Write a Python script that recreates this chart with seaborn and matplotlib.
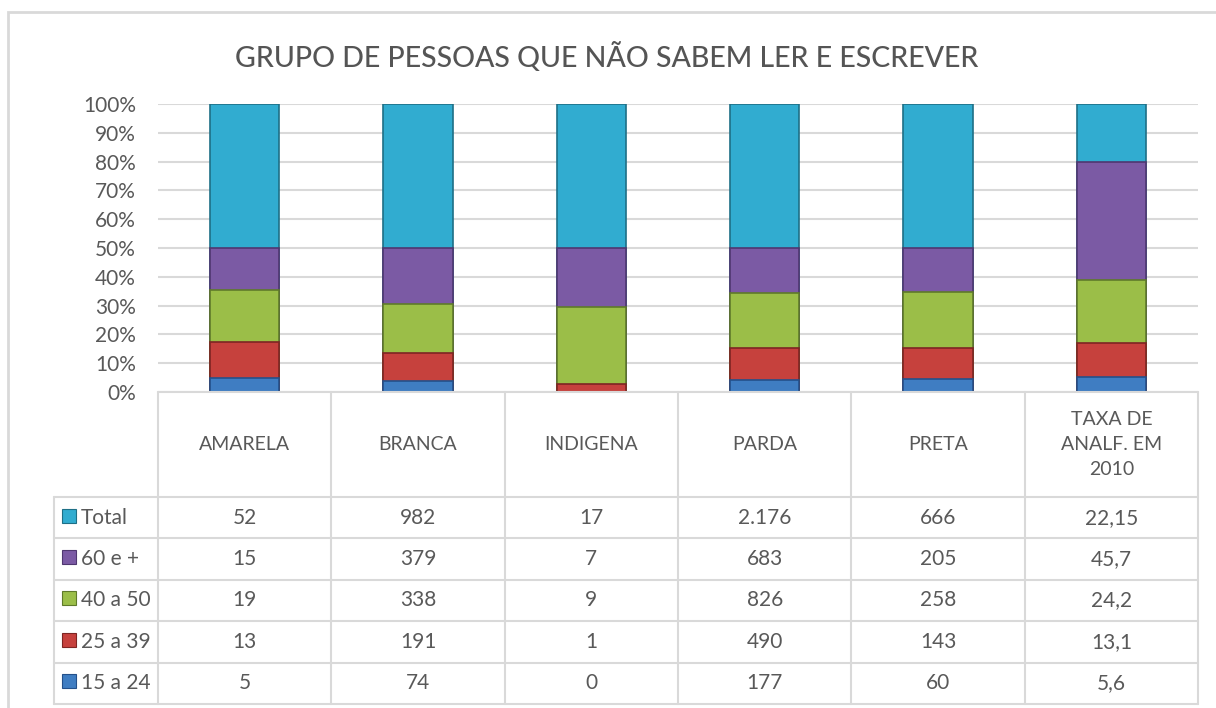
import numpy as np
import pandas as pd
import matplotlib
matplotlib.use("Agg")
import matplotlib.pyplot as plt
from matplotlib.patches import Rectangle
import seaborn as sns

# ---------------- data ----------------
categories = ["AMARELA", "BRANCA", "INDIGENA", "PARDA", "PRETA", "TAXA DE\nANALF. EM\n2010"]
series_names = ["Total", "60 e +", "40 a 50", "25 a 39", "15 a 24"]   # table order (top -> bottom)
total      = [52, 982, 17, 2176, 666, 22.15]
age_60     = [15, 379, 7, 683, 205, 45.7]
age_40_50  = [19, 338, 9, 826, 258, 24.2]
age_25_39  = [13, 191, 1, 490, 143, 13.1]
age_15_24  = [5, 74, 0, 177, 60, 5.6]
y_ticks = [0.0, 0.1, 0.2, 0.3, 0.4, 0.5, 0.6, 0.7, 0.8, 0.9, 1.0]
title = "GRUPO DE PESSOAS QUE NÃO SABEM LER E ESCREVER"

series_values = [total, age_60, age_40_50, age_25_39, age_15_24]
colors = ["#31ACD0", "#7B5AA4", "#9BBE48", "#C6413D", "#3F7DC2"]
edge_colors = ["#1E6F86", "#4F3770", "#5F7A2A", "#7E2523", "#24508A"]

# ---------------- styling ----------------
sns.set_theme(style="white")
plt.rcParams["font.family"] = ["Lato", "DejaVu Sans"]
TXT = "#595959"
GRID = "#D9D9D9"

W, H = 1216, 708
fig = plt.figure(figsize=(W / 100, H / 100), dpi=100)
fig.patch.set_facecolor("white")

def fx(px):
    return px / W

def fy(py):
    return 1 - py / H

# outer chart-area border
fig.patches.append(Rectangle((fx(8), fy(730)), fx(1240) - fx(8), fy(12) - fy(730),
                             transform=fig.transFigure, fill=False,
                             edgecolor=GRID, linewidth=2, zorder=0))

fig.text(fx(607), fy(57), title, ha="center", va="center",
         fontsize=20.5, color="#555555", fontweight="medium")

# ---------------- bars (100% stacked) ----------------
ax = fig.add_axes([fx(158), fy(392), fx(1198) - fx(158), fy(104) - fy(392)])

df = pd.DataFrame({"categoria": categories})
stack_order = list(range(len(series_names)))[::-1]  # bottom -> top: 15a24 ... Total
vals = np.array(series_values, dtype=float)          # rows in table order
shares = vals / vals.sum(axis=0)
cum = np.zeros(len(categories))
cum_list = {}
for i in stack_order:
    cum = cum + shares[i]
    cum_list[i] = cum.copy()

# draw cumulative bars from the top layer down (each one covers the lower part)
for i in [0, 1, 2, 3, 4]:
    d = df.copy()
    d["valor"] = cum_list[i]
    sns.barplot(data=d, x="categoria", y="valor", order=categories,
                color=colors[i], saturation=1, width=0.4, ax=ax,
                edgecolor=edge_colors[i], linewidth=1.2, zorder=3 + i)

ax.set_xlim(-0.5, len(categories) - 0.5)
ax.set_ylim(0, 1)
ax.set_yticks(y_ticks)
ax.set_yticklabels([f"{t:.0%}" for t in y_ticks])
ax.tick_params(axis="y", length=0, pad=16, labelsize=15, labelcolor=TXT)
ax.set_xticks([])
ax.set_xlabel("")
ax.set_ylabel("")
for s in ax.spines.values():
    s.set_visible(False)
ax.yaxis.grid(True, color=GRID, linewidth=1.5, zorder=0)
ax.set_axisbelow(True)
ax.patch.set_alpha(0)

# ---------------- data table ----------------
unit_px = (1198 - 158) / len(categories)
left = -0.5 - (158 - 54) / unit_px
tax = fig.add_axes([fx(54), fy(704), fx(1198) - fx(54), fy(392) - fy(704)])
hdr = (497 - 392) / ((704 - 497) / len(series_names))
nrows = len(series_names)
tax.set_xlim(left, len(categories) - 0.5)
tax.set_ylim(hdr + nrows, 0)
tax.axis("off")

lw = 1.5
tax.plot([-0.5, len(categories) - 0.5], [0, 0], color=GRID, lw=lw, clip_on=False)
for k in range(nrows + 1):
    tax.plot([left, len(categories) - 0.5], [hdr + k, hdr + k], color=GRID, lw=lw, clip_on=False)
for i in range(len(categories) + 1):
    tax.plot([-0.5 + i, -0.5 + i], [0, hdr + nrows], color=GRID, lw=lw, clip_on=False)
tax.plot([left, left], [hdr, hdr + nrows], color=GRID, lw=lw, clip_on=False)

for i, c in enumerate(categories):
    tax.text(i, hdr / 2, c, ha="center", va="center", fontsize=14, color=TXT,
             linespacing=1.55)

def fmt(v):
    s = f"{v:,.2f}".rstrip("0").rstrip(".")
    return s.replace(",", "#").replace(".", ",").replace("#", ".")

sq_w = 14 / unit_px
sq_h = 14 / ((704 - 497) / nrows)
for k, (name, values) in enumerate(zip(series_names, series_values)):
    yc = hdr + k + 0.5
    tax.add_patch(Rectangle((left + 8 / unit_px, yc - sq_h / 2 - 0.05), sq_w, sq_h,
                            facecolor=colors[k], edgecolor=edge_colors[k], lw=0.8,
                            clip_on=False))
    tax.text(left + 27 / unit_px, yc, name, ha="left", va="center",
             fontsize=15, color=TXT)
    for i, v in enumerate(values):
        tax.text(i, yc, fmt(v), ha="center", va="center", fontsize=15, color=TXT)

fig.savefig("out.png", dpi=100, facecolor="white")
